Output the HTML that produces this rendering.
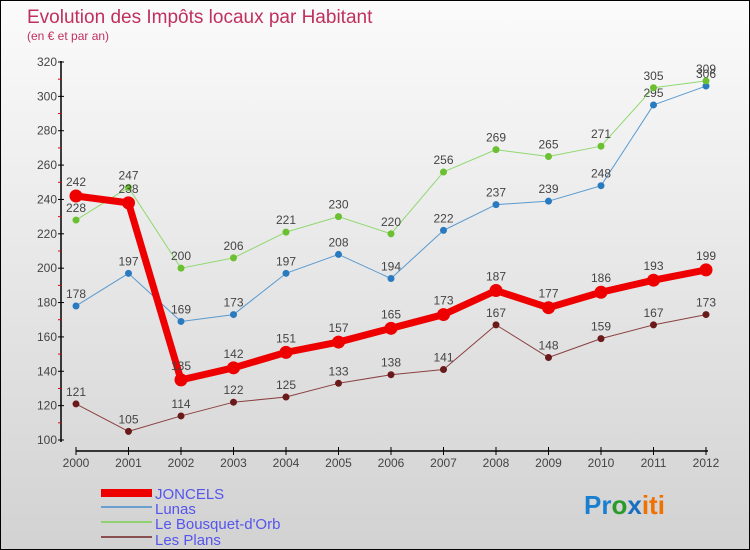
<!DOCTYPE html>
<html><head><meta charset="utf-8"><style>
body{margin:0;}
#c{width:748px;height:548px;border:1px solid #000;background:linear-gradient(#fbfbfb,#d2d2d2);position:relative;overflow:hidden;font-family:"Liberation Sans",sans-serif;}
</style></head><body>
<div id="c">
<svg id="s" width="748" height="548" xmlns="http://www.w3.org/2000/svg">
<text x="26" y="22" font-size="19" fill="#c0305e">Evolution des Impôts locaux par Habitant</text>
<text x="26" y="39" font-size="12" fill="#c0305e">(en € et par an)</text>
<g id="axes"></g><g id="series"></g>
<g>
<rect x="100" y="488" width="51" height="8" fill="#e00"/>
<text x="154" y="498" font-size="15" fill="#5555ee">JONCELS</text>
<rect x="100" y="505" width="51" height="2" fill="#6a9fd0"/>
<text x="154" y="513" font-size="15" fill="#5555ee">Lunas</text>
<rect x="100" y="520" width="51" height="2" fill="#90d070"/>
<text x="154" y="528" font-size="15" fill="#5555ee">Le Bousquet-d'Orb</text>
<rect x="100" y="535" width="51" height="2" fill="#8a5050"/>
<text x="154" y="544" font-size="15" fill="#5555ee">Les Plans</text>
</g>
<text x="583" y="513" font-size="26" font-weight="bold"><tspan fill="#1a7fd0">Pr</tspan><tspan fill="#2a9a2a">o</tspan><tspan fill="#1a6fc0">x</tspan><tspan fill="#f07000">iti</tspan></text>
</svg></div>
<script>
const years=[2000,2001,2002,2003,2004,2005,2006,2007,2008,2009,2010,2011,2012];
const joncels=[242,238,135,142,151,157,165,173,187,177,186,193,199];
const lunas=[178,197,169,173,197,208,194,222,237,239,248,295,306];
const bousquet=[228,247,200,206,221,230,220,256,269,265,271,305,309];
const lesPlans=[121,105,114,122,125,133,138,141,167,148,159,167,173];
const yTicks=[100,120,140,160,180,200,220,240,260,280,300,320];
const NS="http://www.w3.org/2000/svg";
const x=i=>75+i*52.5;
const y=v=>439-(v-100)*378/220;
function mk(tag,attrs,parent){const e=document.createElementNS(NS,tag);for(const k in attrs)e.setAttribute(k,attrs[k]);parent.appendChild(e);return e;}
const ax=document.getElementById('axes');
let l=mk('line',{x1:60,y1:60,x2:60,y2:441,stroke:'#000','stroke-width':1.5},ax);


l=mk('line',{x1:75,y1:450,x2:707,y2:450,stroke:'#000','stroke-width':1.5},ax);


yTicks.forEach(v=>{
 mk('line',{x1:57,y1:y(v),x2:63,y2:y(v),stroke:'#000'},ax);
 if(v<320){mk('line',{x1:57,y1:y(v+10),x2:60,y2:y(v+10),stroke:'#e00'},ax);}
 const t=mk('text',{x:56,y:y(v)+4,'font-size':12,fill:'#444','text-anchor':'end'},ax);t.textContent=v;
 
 
});
years.forEach((yr,i)=>{
 mk('line',{x1:x(i),y1:446,x2:x(i),y2:454,stroke:'#000'},ax);
 const t=mk('text',{x:x(i),y:466,'font-size':12,fill:'#444','text-anchor':'middle'},ax);t.textContent=yr;
 
 
});
const sg=document.getElementById('series');
function draw(vals,color,w,r,name,dot,dy){
 const g=mk('g',{},sg);
 
 
 const p=mk('polyline',{points:vals.map((v,i)=>x(i)+','+y(v)).join(' '),fill:'none',stroke:color,'stroke-width':w,'stroke-linejoin':'round'},g);
 
 
 vals.forEach((v,i)=>{
  const c=mk('circle',{cx:x(i),cy:y(v),r:r,fill:dot},g);
  
  
  const t=mk('text',{x:x(i),y:y(v)-dy,'font-size':12,fill:'#444','text-anchor':'middle'},g);t.textContent=v;
  
  
 });
}
draw(lesPlans,'#8a4040',1,3.5,'les-plans','#6a1a1a',8);
draw(lunas,'#5a9ad0',1,3.5,'lunas','#2a7ac0',8);
draw(bousquet,'#90d870',1,3.5,'bousquet','#6ac030',8);
draw(joncels,'#ee0000',7,6.5,'joncels','#ee0000',10);
</script>
</body></html>
